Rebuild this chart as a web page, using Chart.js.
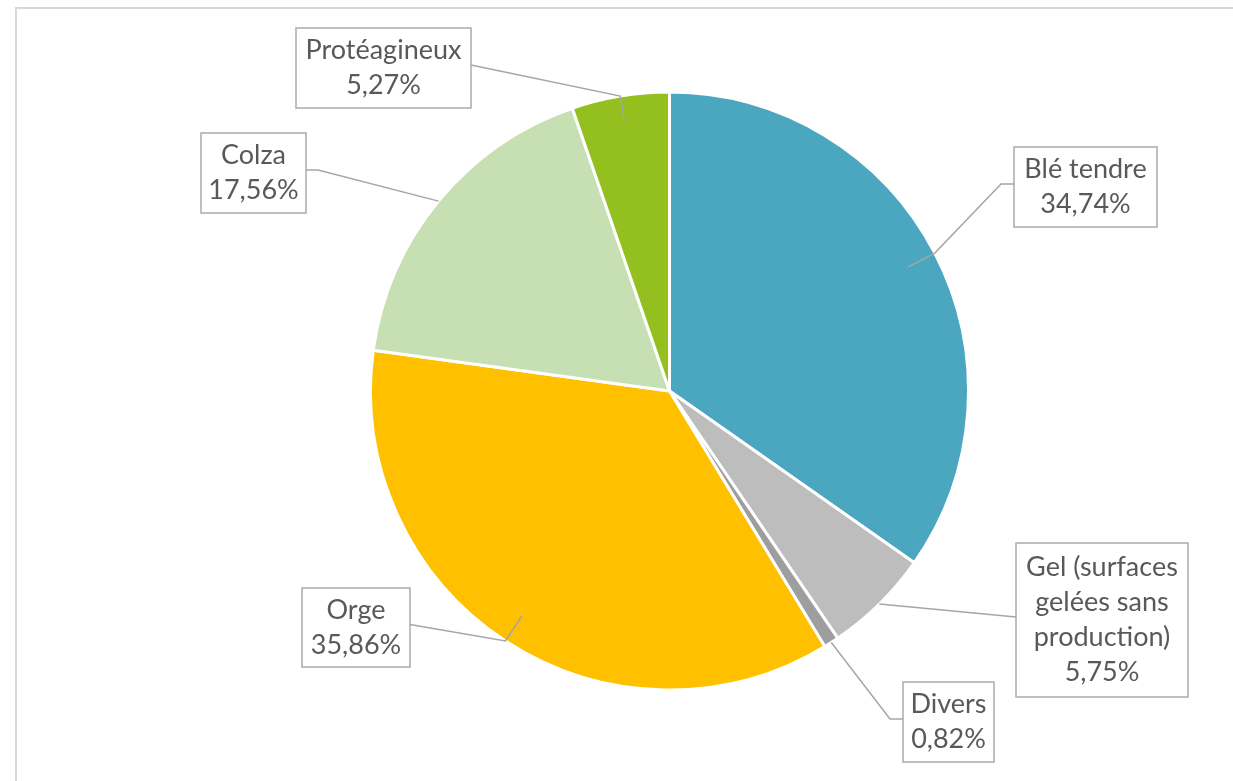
<!DOCTYPE html>
<html>
<head>
<meta charset="utf-8">
<script src="https://cdn.jsdelivr.net/npm/chart.js@4.4.1/dist/chart.umd.min.js"></script>
<style>
  html, body { margin: 0; padding: 0; background: #fff; }
  #wrap { position: relative; width: 1233px; height: 781px; }
</style>
</head>
<body>
<div id="wrap"><canvas id="pieChart" width="1233" height="781"></canvas></div>
<script>
// Data
const categories = ['Blé tendre', 'Gel (surfaces gelées sans production)', 'Divers', 'Orge', 'Colza', 'Protéagineux'];
const shares = [34.74, 5.75, 0.82, 35.86, 17.56, 5.27];
const sliceColors = ['#4BA7BF', '#BDBDBD', '#9E9E9E', '#FFC000', '#C6E0B4', '#93C01F'];

// Label box layout (box centre, size, side the leader leaves from, elbow, how deep the line goes in)
const labelLayout = [
    { lines: ['Blé tendre'], cx: 1085.5, cy: 187, w: 143, h: 80, side: 'left', elbow: 13, depth: 0.9 },
    { lines: ['Gel (surfaces', 'gelées sans', 'production)'], cx: 1102, cy: 620, w: 172, h: 154, side: 'left', elbow: 0, depth: 1.0 },
    { lines: ['Divers'], cx: 948.5, cy: 722, w: 91, h: 80, side: 'left', elbow: 13, depth: 1.0 },
    { lines: ['Orge'], cx: 356, cy: 627.5, w: 108, h: 79, side: 'right', elbow: 0, depth: 0.9 },
    { lines: ['Colza'], cx: 253.5, cy: 173, w: 105, h: 80, side: 'right', elbow: 12, depth: 1.0 },
    { lines: ['Protéagineux'], cx: 383.5, cy: 68, w: 175, h: 80, side: 'right', elbow: 0, depth: 0.92 }
];

function fmtPct(v) {
    return v.toFixed(2).replace('.', ',') + '%';
}

const frameAndLabels = {
    id: 'frameAndLabels',
    beforeDraw(chart) {
        const c = chart.ctx;
        c.save();
        c.strokeStyle = '#D9D9D9';
        c.lineWidth = 2;
        c.beginPath();
        c.moveTo(16, chart.height);
        c.lineTo(16, 8);
        c.lineTo(chart.width, 8);
        c.stroke();
        c.restore();
    },
    afterDraw(chart) {
        const c = chart.ctx;
        const arcs = chart.getDatasetMeta(0).data;
        c.save();
        arcs.forEach(function (arc, i) {
            const lay = labelLayout[i];
            const mid = (arc.startAngle + arc.endAngle) / 2;
            const r = arc.outerRadius;
            const edge = [arc.x + Math.cos(mid) * r, arc.y + Math.sin(mid) * r];
            const inner = [arc.x + Math.cos(mid) * r * lay.depth, arc.y + Math.sin(mid) * r * lay.depth];
            const ax = lay.side === 'left' ? lay.cx - lay.w / 2 : lay.cx + lay.w / 2;
            const ay = lay.cy - 3;
            const ex = lay.side === 'left' ? ax - lay.elbow : ax + lay.elbow;

            // leader line
            c.strokeStyle = '#A6A6A6';
            c.lineWidth = 1.5;
            c.beginPath();
            c.moveTo(ax, ay);
            c.lineTo(ex, ay);
            c.lineTo(edge[0], edge[1]);
            c.lineTo(inner[0], inner[1]);
            c.stroke();

            // box
            c.fillStyle = '#FFFFFF';
            c.fillRect(lay.cx - lay.w / 2, lay.cy - lay.h / 2, lay.w, lay.h);
            c.strokeStyle = '#ABABAB';
            c.lineWidth = 1.5;
            c.strokeRect(lay.cx - lay.w / 2, lay.cy - lay.h / 2, lay.w, lay.h);

            // text
            const lines = lay.lines.concat([fmtPct(shares[i])]);
            const lh = 35;
            c.fillStyle = '#595959';
            c.font = '27px Lato, "Open Sans", sans-serif';
            c.textAlign = 'center';
            c.textBaseline = 'middle';
            const top = lay.cy - (lines.length - 1) * lh / 2;
            lines.forEach(function (t, k) {
                c.fillText(t, lay.cx, top + k * lh);
            });
        });
        c.restore();
    }
};

const ctx = document.getElementById('pieChart');

new Chart(ctx, {
    type: 'pie',
    data: {
        labels: categories,
        datasets: [{
            data: shares,
            backgroundColor: sliceColors,
            borderColor: '#FFFFFF',
            borderWidth: 3
        }]
    },
    options: {
        responsive: false,
        animation: false,
        layout: {
            padding: { left: 369, right: 263, top: 90, bottom: 89 }
        },
        plugins: {
            legend: { display: false },
            tooltip: { enabled: false }
        }
    },
    plugins: [frameAndLabels]
});
</script>
</body>
</html>
